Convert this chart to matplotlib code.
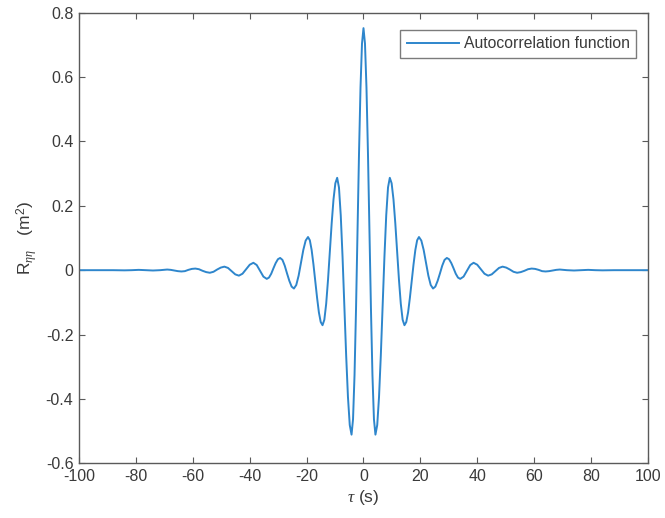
import matplotlib
matplotlib.use("Agg")
import matplotlib.pyplot as plt
import numpy as np

plt.rcParams['font.family'] = ['Liberation Sans', 'DejaVu Sans']
plt.rcParams['mathtext.fontset'] = 'custom'
plt.rcParams['mathtext.rm'] = 'Liberation Sans'
plt.rcParams['mathtext.it'] = 'Liberation Serif:italic'

# Autocorrelation (right half, tau >= 0)
tau_right = [0, 0.525, 1.05, 1.575, 2.1, 2.625, 3.15, 3.675, 4.2,
             4.83, 5.46, 6.09, 6.73, 7.36, 7.99, 8.62, 9.25,
             9.89, 10.54, 11.18, 11.83, 12.47, 13.11, 13.76, 14.4,
             15.04, 15.68, 16.31, 16.95, 17.59, 18.23, 18.86, 19.5,
             20.33, 21.15, 21.98, 22.8, 23.63, 24.45,
             25.26, 26.07, 26.88, 27.68, 28.49, 29.3,
             30.08, 30.87, 31.65, 32.43, 33.22, 34.0,
             35.18, 36.35, 37.53, 38.7,
             39.98, 41.25, 42.53, 43.8,
             45.08, 46.35, 47.63, 48.9,
             50.18, 51.45, 52.73, 54.0,
             55.28, 56.55, 57.83, 59.1,
             60.33, 61.55, 62.78, 64.0,
             65.25, 66.5, 67.75, 69.0,
             71.5, 74.0, 76.5, 79.0, 81.5, 84.0, 88.0, 92.0, 96.0, 100.0]
r_right = [0.752, 0.704, 0.567, 0.362, 0.121, -0.121, -0.326, -0.463, -0.511,
           -0.481, -0.394, -0.265, -0.112, 0.041, 0.170, 0.257, 0.287,
           0.270, 0.220, 0.146, 0.058, -0.030, -0.104, -0.154, -0.171,
           -0.161, -0.131, -0.086, -0.034, 0.018, 0.063, 0.093, 0.103,
           0.092, 0.063, 0.023, -0.017, -0.046, -0.057,
           -0.051, -0.033, -0.010, 0.014, 0.032, 0.038,
           0.034, 0.022, 0.006, -0.011, -0.023, -0.027,
           -0.020, -0.002, 0.016, 0.023,
           0.017, 0.003, -0.011, -0.017,
           -0.013, -0.003, 0.007, 0.011,
           0.008, 0.002, -0.005, -0.008,
           -0.006, -0.002, 0.003, 0.005,
           0.004, 0.001, -0.003, -0.004,
           -0.003, -0.001, 0.001, 0.002,
           0.000, -0.001, 0.000, 0.001, 0.000, -0.0005, 0.000, 0.000, 0.000, 0.000]

# Left half (tau < 0), listed from the centre outwards
tau_left = [-0.525, -1.05, -1.575, -2.1, -2.625, -3.15, -3.675, -4.2,
            -4.83, -5.46, -6.09, -6.73, -7.36, -7.99, -8.62, -9.25,
            -9.89, -10.54, -11.18, -11.83, -12.47, -13.11, -13.76, -14.4,
            -15.04, -15.68, -16.31, -16.95, -17.59, -18.23, -18.86, -19.5,
            -20.33, -21.15, -21.98, -22.8, -23.63, -24.45,
            -25.26, -26.07, -26.88, -27.68, -28.49, -29.3,
            -30.08, -30.87, -31.65, -32.43, -33.22, -34.0,
            -35.18, -36.35, -37.53, -38.7,
            -39.98, -41.25, -42.53, -43.8,
            -45.08, -46.35, -47.63, -48.9,
            -50.18, -51.45, -52.73, -54.0,
            -55.28, -56.55, -57.83, -59.1,
            -60.33, -61.55, -62.78, -64.0,
            -65.25, -66.5, -67.75, -69.0,
            -71.5, -74.0, -76.5, -79.0, -81.5, -84.0, -88.0, -92.0, -96.0, -100.0]
r_left = [0.704, 0.567, 0.362, 0.121, -0.121, -0.326, -0.463, -0.511,
          -0.481, -0.394, -0.265, -0.112, 0.041, 0.170, 0.257, 0.287,
          0.270, 0.220, 0.146, 0.058, -0.030, -0.104, -0.154, -0.171,
          -0.161, -0.131, -0.086, -0.034, 0.018, 0.063, 0.093, 0.103,
          0.092, 0.063, 0.023, -0.017, -0.046, -0.057,
          -0.051, -0.033, -0.010, 0.014, 0.032, 0.038,
          0.034, 0.022, 0.006, -0.011, -0.023, -0.027,
          -0.020, -0.002, 0.016, 0.023,
          0.017, 0.003, -0.011, -0.017,
          -0.013, -0.003, 0.007, 0.011,
          0.008, 0.002, -0.005, -0.008,
          -0.006, -0.002, 0.003, 0.005,
          0.004, 0.001, -0.003, -0.004,
          -0.003, -0.001, 0.001, 0.002,
          0.000, -0.001, 0.000, 0.001, 0.000, -0.0005, 0.000, 0.000, 0.000, 0.000]

x_ticks = [-100, -80, -60, -40, -20, 0, 20, 40, 60, 80, 100]
y_ticks = [-0.6, -0.4, -0.2, 0, 0.2, 0.4, 0.6, 0.8]
x_ticklabels = ['-100', '-80', '-60', '-40', '-20', '0', '20', '40', '60', '80', '100']
y_ticklabels = ['-0.6', '-0.4', '-0.2', '0', '0.2', '0.4', '0.6', '0.8']

tau = np.concatenate([np.array(tau_left)[::-1], np.array(tau_right)])
r = np.concatenate([np.array(r_left)[::-1], np.array(r_right)])

txt = '#3a3a3a'
edge = '#5a5a5a'

fig = plt.figure(figsize=(6.65, 5.18), dpi=100)
ax = fig.add_axes([0.1188, 0.1056, 0.8556, 0.8699])
ax.plot(tau, r, color='#2e86cc', lw=1.4, label='Autocorrelation function')
ax.set_xlim(-100, 100)
ax.set_ylim(-0.6, 0.8)
ax.set_xticks(x_ticks)
ax.set_xticklabels(x_ticklabels)
ax.set_yticks(y_ticks)
ax.set_yticklabels(y_ticklabels)
ax.tick_params(direction='in', top=True, right=True, length=4, width=0.8,
               colors=edge, labelcolor=txt, labelsize=11.5, pad=4)
for s in ax.spines.values():
    s.set_color(edge)
    s.set_linewidth(1.0)

ax.set_xlabel(r'$\mathit{\tau}$ (s)', fontsize=12.5, color=txt, labelpad=3)
ax.set_ylabel(r'R$_{\mathit{\eta\eta}}$   (m$^2$)', fontsize=12.5, color=txt, labelpad=5)

leg = ax.legend(loc='upper right', fontsize=11.3, frameon=True, fancybox=False,
                borderpad=0.4, handlelength=3.3, handletextpad=0.35,
                borderaxespad=0.0, bbox_to_anchor=(0.9795, 0.9615))
leg.get_frame().set_edgecolor(edge)
leg.get_frame().set_linewidth(1.0)
for t in leg.get_texts():
    t.set_color(txt)

fig.savefig('out.png', dpi=100)
